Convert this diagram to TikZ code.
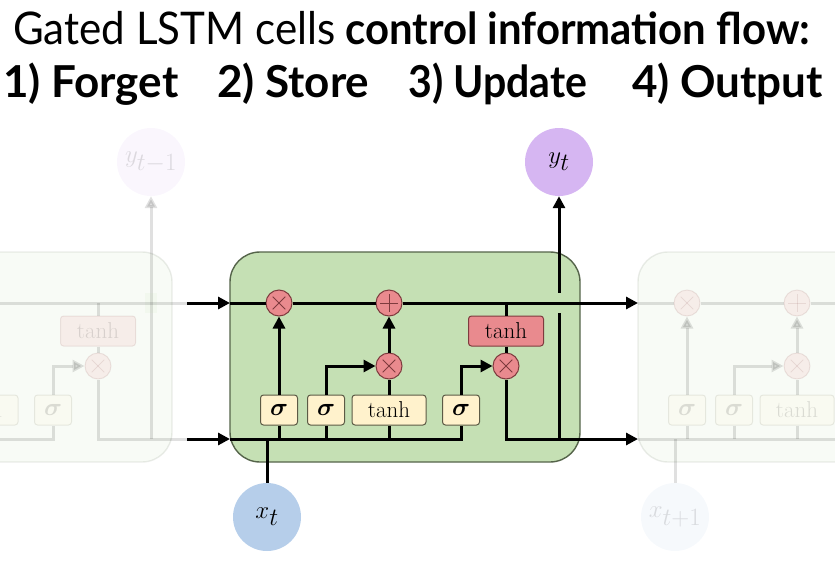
\documentclass[tikz,border=0pt]{standalone}
\usepackage{fontspec}
\usepackage{amsmath, amssymb, bm}
\usetikzlibrary{arrows.meta}

\newfontfamily\titlefont{Lato}

\definecolor{cellgreen}{HTML}{C5E0B4}
\definecolor{cellline}{HTML}{55644A}
\definecolor{opred}{HTML}{E98A8E}
\definecolor{opline}{HTML}{7E3B3E}
\definecolor{gateyellow}{HTML}{FFF2CC}
\definecolor{gateline}{HTML}{5C5A45}
\definecolor{outlav}{HTML}{D6B6F2}
\definecolor{inblue}{HTML}{B6CEEA}

\tikzset{
  cell/.style={draw=cellline, line width=1.4pt, fill=cellgreen, rounded corners=30pt},
  gate/.style={draw=gateline, line width=1pt, fill=gateyellow, rounded corners=3pt,
    minimum height=30pt, minimum width=37pt, inner sep=0pt, font=\fontsize{23}{23}\selectfont},
  sig/.style={gate, font=\fontsize{28}{28}\selectfont},
  act/.style={gate, draw=opline, fill=opred, minimum width=75pt},
  op/.style={circle, draw=opline, line width=1pt, fill=opred, minimum size=26pt, inner sep=0pt},
  opsym/.style={opline, line width=1pt},
  wire/.style={line width=3pt},
  flow/.style={wire, -{Triangle[length=12pt,width=12pt]}},
  io/.style={circle, minimum size=68pt, inner sep=0pt, font=\fontsize{34}{34}\selectfont},
  head/.style={anchor=base west, inner sep=0pt, font=\titlefont\fontsize{45}{45}\selectfont},
  headbf/.style={head, font=\titlefont\bfseries\fontsize{44}{44}\selectfont},
}

% one LSTM cell, #1 = prefix of its node names
\newcommand{\lstmcell}[1]{%
  \draw[cell] (230,252) rectangle (580,462);
  \coordinate (#1cin) at (230,303);
  \coordinate (#1cout) at (595,303);
  \coordinate (#1hin) at (230,439);
  \coordinate (#1hout) at (595,439);
  \coordinate (#1xin) at (267,439);
  \coordinate (#1ybr) at (559,439);
  \coordinate (#1ytop) at (559,252);
  % gates
  \node[sig] (#1sf) at (279,410) {$\bm{\sigma}$};
  \node[sig] (#1si) at (326,410) {$\bm{\sigma}$};
  \node[gate, minimum width=74pt] (#1tc) at (389,410) {tanh};
  \node[sig] (#1so) at (461,410) {$\bm{\sigma}$};
  \node[act] (#1to) at (506,331) {tanh};
  % pointwise ops
  \node[op] (#1fx) at (279,303) {};
  \node[op] (#1pl) at (389,303) {};
  \node[op] (#1ix) at (389,366) {};
  \node[op] (#1ox) at (506,366) {};
  \foreach \m in {fx,ix,ox}{
    \draw[opsym] ([shift={(45:9)}]#1\m.center) -- ([shift={(225:9)}]#1\m.center);
    \draw[opsym] ([shift={(135:9)}]#1\m.center) -- ([shift={(-45:9)}]#1\m.center);
  }
  \draw[opsym] ([yshift=9]#1pl.center) -- ([yshift=-9]#1pl.center);
  \draw[opsym] ([xshift=9]#1pl.center) -- ([xshift=-9]#1pl.center);
  % hidden state and gates
  \draw[wire] (#1hin) -- (#1so.south |- #1hin) -- (#1so.south);
  \foreach \g in {sf,si,tc}
    \draw[wire] (#1\g.south) -- (#1\g.south |- #1hin);
  \draw[flow] (#1sf) -- (#1fx);
  \draw[flow] (#1si.north) |- (#1ix.west);
  \draw[wire] (#1tc) -- (#1ix);
  \draw[flow] (#1ix) -- (#1pl);
  \draw[flow] (#1so.north) |- (#1ox.west);
  \draw[wire] (#1to) -- (#1ox);
  \draw[wire] (#1ox.south) |- (#1hout);
  \draw[wire] (#1ybr) -- (#1ytop);
  % cell state
  \fill[cellgreen] (553,293) rectangle (565,313);
  \draw[wire] (#1cin) -- (#1fx);
  \draw[wire] (#1fx) -- (#1pl);
  \draw[wire] (#1pl) -- (#1cout);
  \draw[wire] (#1to.north) -- (#1to.north |- #1cin);
}

\begin{document}
\begin{tikzpicture}[x=1pt, y=-1pt]
  \clip (0,0) rectangle (835,560);

  \node[head] (title) at (13,44) {\resizebox{322pt}{\height}{Gated LSTM cells}};
  \node[headbf] (titlebf) at (345,44) {\resizebox{465pt}{\height}{control information flow:}};
  \node[headbf] (lblforget) at (3,97) {1) Forget};
  \node[headbf] (lblstore) at (217,97) {2) Store};
  \node[headbf] (lblupdate) at (408,97) {\resizebox{179pt}{\height}{3) Update}};
  \node[headbf] (lbloutput) at (632,97) {4) Output};

  % faded neighbour cells
  \begin{scope}[opacity=0.12]
    \begin{scope}[xshift=-408]
      \lstmcell{L}
    \end{scope}
    \begin{scope}[xshift=408]
      \lstmcell{R}
    \end{scope}
    \node[io, fill=outlav] (yprev) at (151,162) {$y_{t-1}$};
    \draw[flow] (Lytop) -- (yprev);
    \node[io, fill=inblue] (xnext) at (675,517) {$x_{t+1}$};
    \draw[wire] (xnext) -- (Rxin);
  \end{scope}

  % current cell
  \lstmcell{M}
  \node[io, fill=outlav] (yt) at (559,162) {$y_t$};
  \draw[flow] (Mytop) -- (yt);
  \node[io, fill=inblue] (xt) at (267,517) {$x_t$};
  \draw[wire] (xt) -- (Mxin);

  \draw[flow] (Lcout) -- (Mcin);
  \draw[flow] (Lhout) -- (Mhin);
  \draw[flow] (Mcout) -- (Rcin);
  \draw[flow] (Mhout) -- (Rhin);
\end{tikzpicture}
\end{document}
